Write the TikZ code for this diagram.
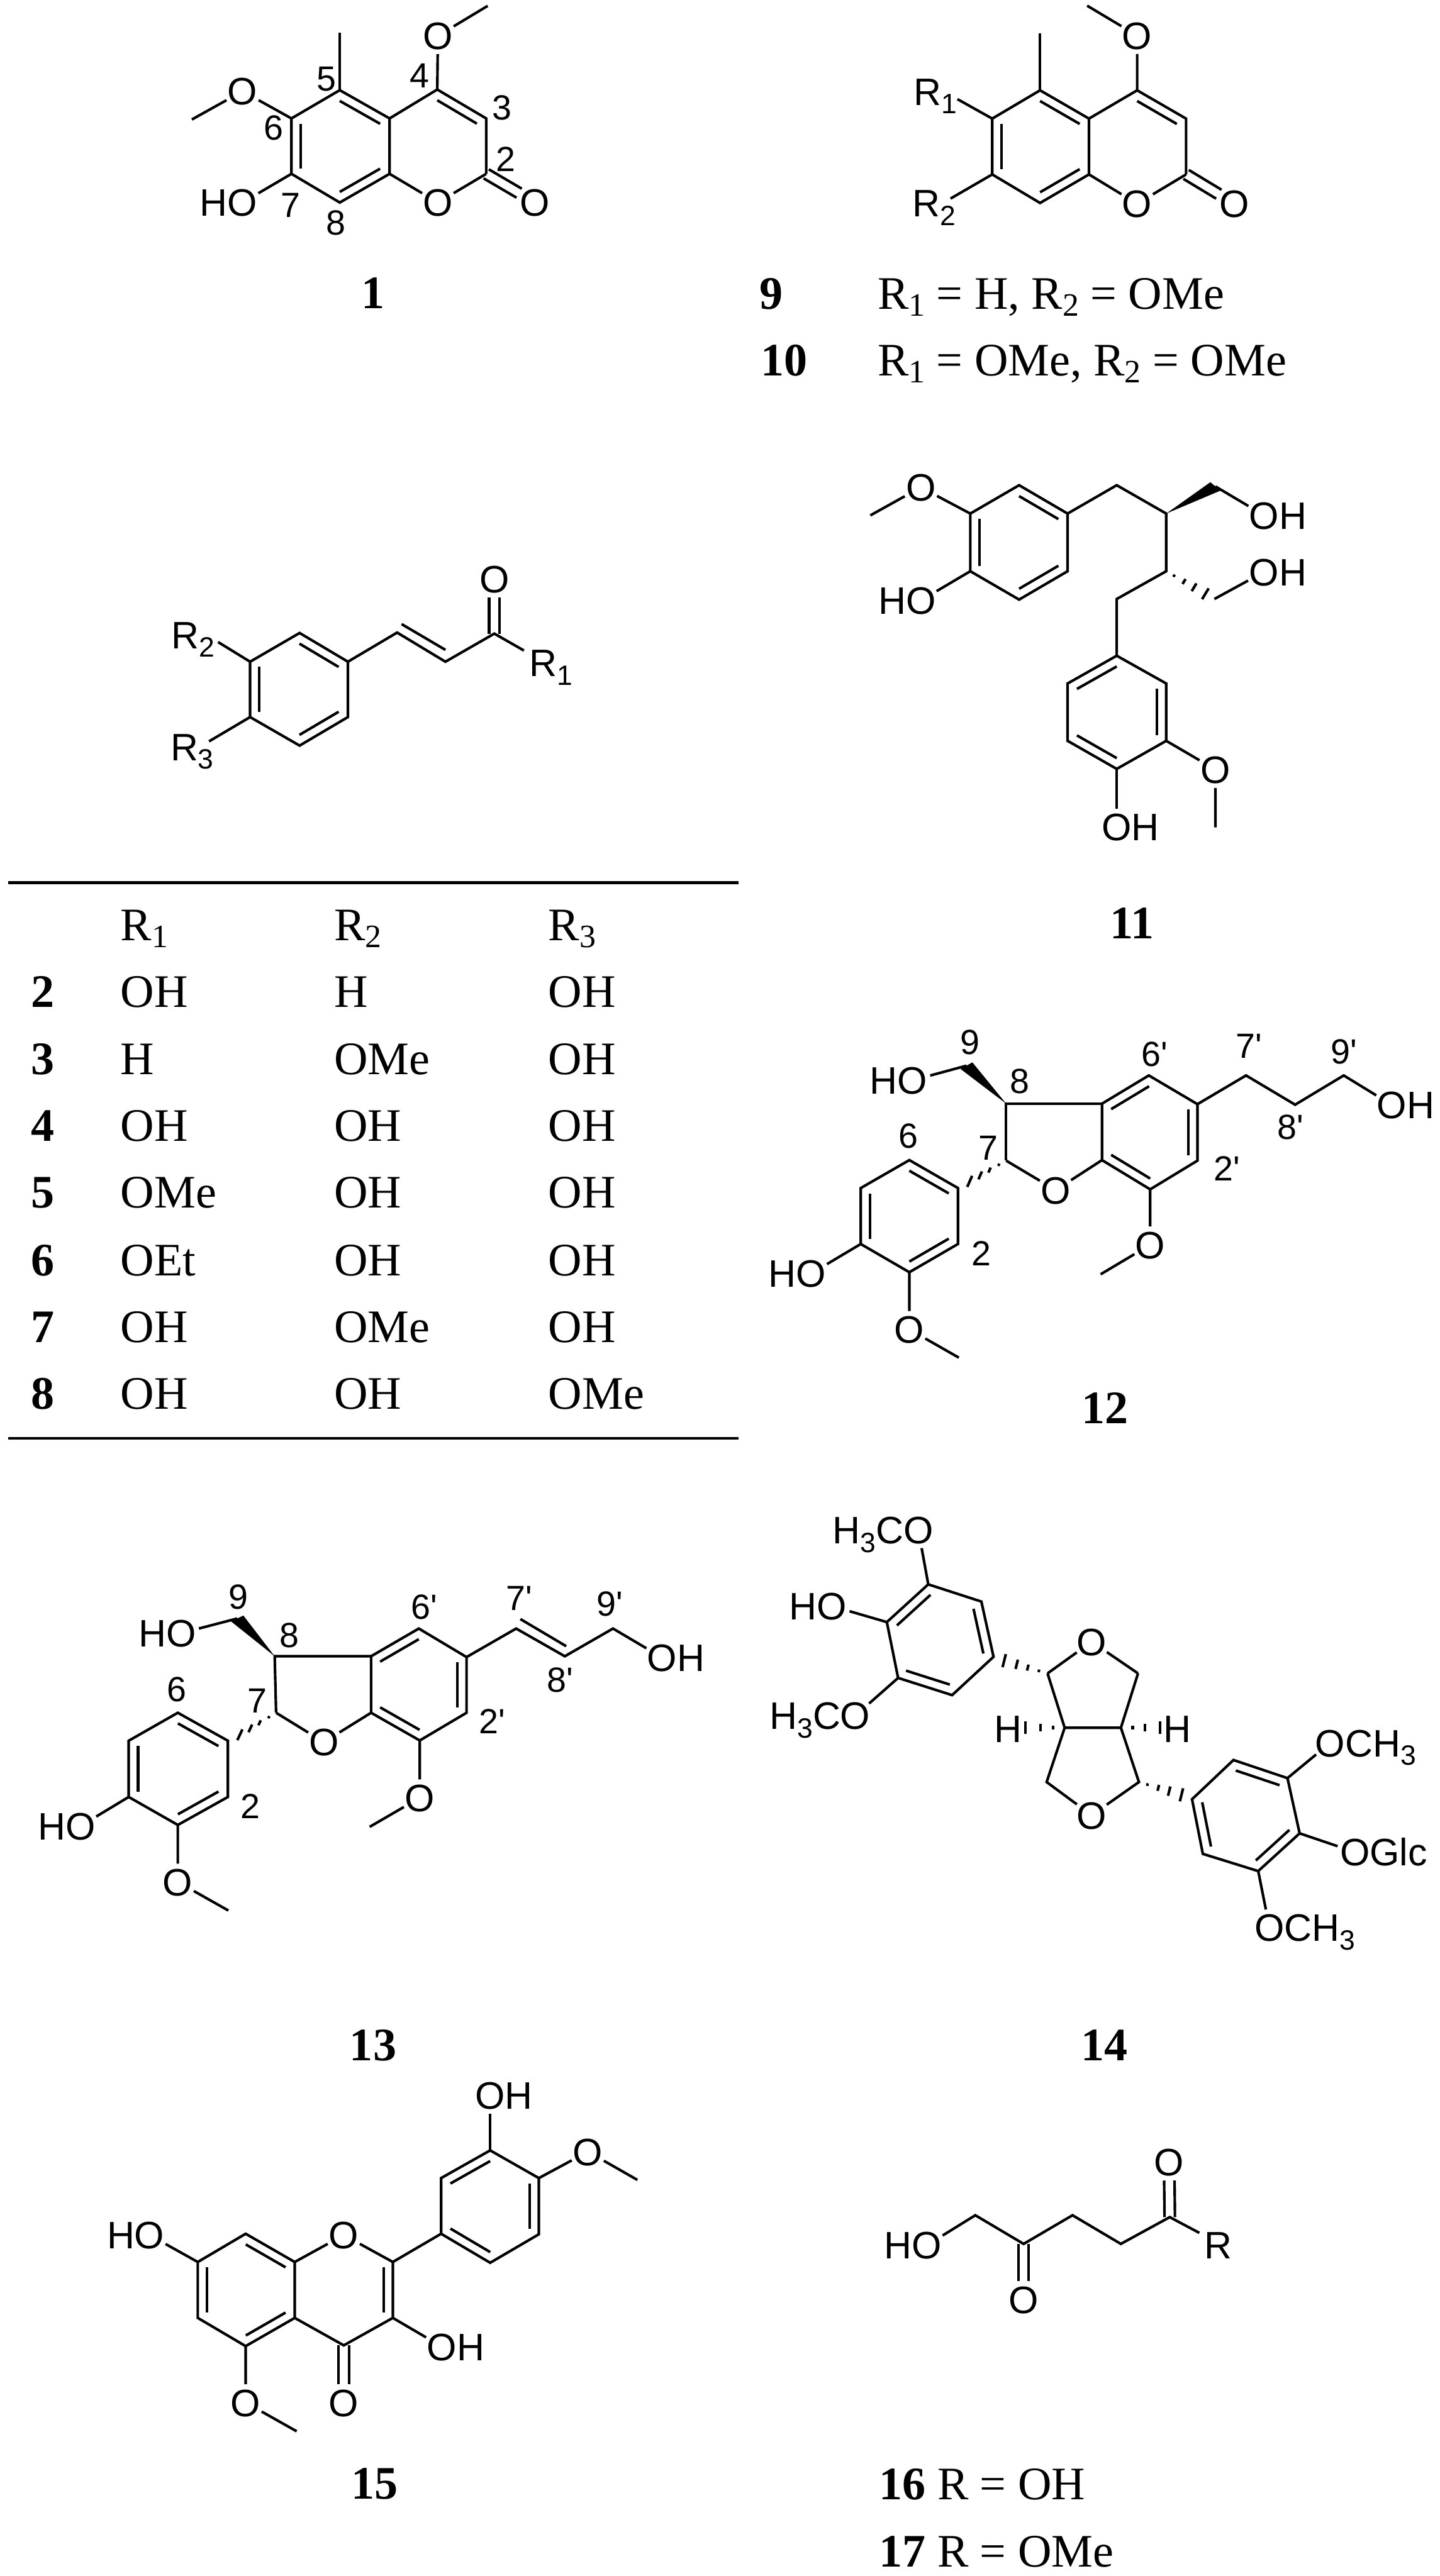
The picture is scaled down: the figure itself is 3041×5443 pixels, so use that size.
\documentclass[tikz,border=0pt]{standalone}
\usepackage{fontspec}
\usepackage{graphicx}
\usepackage{tikz}
\usetikzlibrary{calc}
\setmainfont{Liberation Serif}
\newfontfamily\chemfont{Liberation Sans}
\newcommand{\sbs}[1]{\raisebox{-.22em}{\scalebox{.73}{#1}}}
\newcommand{\tbs}[1]{\raisebox{-.15em}{\scalebox{.7}{#1}}}
\newcommand{\innerbond}[3]{\draw ($(#1)!.19!(#3)$) -- ($(#2)!.19!(#3)$);}
\newcommand{\carbonyl}[2]{
    \draw [shorten >=0.39cm] ($(#1)!0.11cm!90:(#2.center)$) -- ($(#2.center)!0.11cm!-90:(#1)$);
    \draw [shorten >=0.39cm] ($(#1)!0.11cm!-90:(#2.center)$) -- ($(#2.center)!0.11cm!90:(#1)$);
}
\newcommand{\hashbond}[5][.18,.41,.64,.9]{
    \foreach \hp in {#1} {
        \draw ($(#2)!\hp!(#3)+\hp*(#4,#5)$) -- ($(#2)!\hp!(#3)-\hp*(#4,#5)$);
    }
}
\newcommand{\wedgebond}[4]{\fill (#1) -- ($(#2)+(#3,#4)$) -- ($(#2)-(#3,#4)$) -- cycle;}
\tikzset{
    mol/.style n args={4}{shift={(#1,#2)},x={#3/1568*0.01cm},y={-#4/1568*0.01cm}},
    atom/.style={circle,inner sep=0pt,outer sep=-0.04cm,text height=16.5pt,text depth=0pt,
        font=\chemfont\fontsize{23}{23}\selectfont},
    rgroup/.style={inner sep=0pt,anchor=base west,font=\chemfont\fontsize{23}{23}\selectfont},
    locant/.style={inner sep=0pt,font=\chemfont\fontsize{21}{21}\selectfont},
    cmpd/.style={inner sep=0pt,anchor=base,font=\bfseries\fontsize{28}{28}\selectfont},
    entry/.style={inner sep=0pt,anchor=base west,font=\fontsize{28}{28}\selectfont}
}
\begin{document}
\begin{tikzpicture}[x=0.01cm,y=-0.01cm,line width=0.055cm]
    \useasboundingbox (0,0) rectangle (3041,5443);

    % compound 1
    \begin{scope}[mol={300}{0}{1000}{720}]
        \coordinate (A1) at (655,415);
        \coordinate (A2) at (820,545);
        \coordinate (A3) at (820,800);
        \coordinate (A4) at (655,932);
        \coordinate (A5) at (495,800);
        \coordinate (A6) at (495,545);
        \coordinate (A7) at (978,412);
        \coordinate (A8) at (1140,545);
        \coordinate (A9) at (1140,800);
        \coordinate (A10) at (655,150);
        \coordinate (A11) at (1145,27);
        \coordinate (A12) at (165,550);
        \coordinate (Ra) at (655,675);
        \coordinate (Rb) at (978,672);
        \node [atom] (O1) at (980,165) {O};
        \node [atom] (O2) at (333,420) {O};
        \node [atom] (O3) at (333,932) {\llap{H}O};
        \node [atom] (O4) at (980,932) {O};
        \node [atom] (O5) at (1302,932) {O};
        \draw (A1) -- (A2) -- (A3) -- (A4) -- (A5) -- (A6) -- cycle;
        \draw (A2) -- (A7) -- (A8) -- (A9);
        \draw (A3) -- (O4) -- (A9);
        \draw (A1) -- (A10);
        \draw (A7) -- (O1) -- (A11);
        \draw (A6) -- (O2) -- (A12);
        \draw (A5) -- (O3);
        \innerbond{A1}{A2}{Ra}
        \innerbond{A3}{A4}{Ra}
        \innerbond{A5}{A6}{Ra}
        \innerbond{A7}{A8}{Rb}
        \carbonyl{A9}{O5}
        \node [locant] (a2) at (1205,733) {2};
        \node [locant] (a3) at (1193,497) {3};
        \node [locant] (a4) at (920,348) {4};
        \node [locant] (a5) at (610,365) {5};
        \node [locant] (a6) at (435,590) {6};
        \node [locant] (a7) at (492,945) {7};
        \node [locant] (a8) at (642,1025) {8};
        \node [cmpd] (n1) at (765,1420) {1};
    \end{scope}

    % compounds 9 and 10
    \begin{scope}[mol={1600}{0}{1200}{860}]
        \coordinate (B1) at (780,348);
        \coordinate (B2) at (915,457);
        \coordinate (B3) at (915,672);
        \coordinate (B4) at (780,782);
        \coordinate (B5) at (648,672);
        \coordinate (B6) at (648,457);
        \coordinate (B7) at (1048,348);
        \coordinate (B8) at (1183,457);
        \coordinate (B9) at (1183,672);
        \coordinate (B10) at (780,128);
        \coordinate (B11) at (910,22);
        \coordinate (B12) at (552,382);
        \coordinate (B13) at (533,765);
        \coordinate (Rc) at (780,565);
        \coordinate (Rd) at (1048,565);
        \node [atom] (O6) at (1048,137) {O};
        \node [atom] (O7) at (1048,785) {O};
        \node [atom] (O8) at (1317,785) {O};
        \draw (B1) -- (B2) -- (B3) -- (B4) -- (B5) -- (B6) -- cycle;
        \draw (B2) -- (B7) -- (B8) -- (B9);
        \draw (B3) -- (O7) -- (B9);
        \draw (B1) -- (B10);
        \draw (B7) -- (O6) -- (B11);
        \draw (B6) -- (B12);
        \draw (B5) -- (B13);
        \innerbond{B1}{B2}{Rc}
        \innerbond{B3}{B4}{Rc}
        \innerbond{B5}{B6}{Rc}
        \innerbond{B7}{B8}{Rd}
        \carbonyl{B9}{O8}
        \node [rgroup] (r1) at (427,405) {R\sbs{1}};
        \node [rgroup] (r2) at (424,835) {R\sbs{2}};
        \node [cmpd] (n9) at (38,1190) {9};
        \node [cmpd] (n10) at (73,1447) {10};
        \node [entry] (t9) at (328,1190) {R\tbs{1} = H, R\tbs{2} = OMe};
        \node [entry] (t10) at (328,1447) {R\tbs{1} = OMe, R\tbs{2} = OMe};
    \end{scope}

    % enone of compounds 2-8
    \begin{scope}[mol={300}{1100}{1000}{700}]
        \coordinate (C1) at (522,532);
        \coordinate (C2) at (682,668);
        \coordinate (C3) at (682,930);
        \coordinate (C4) at (522,1065);
        \coordinate (C5) at (358,930);
        \coordinate (C6) at (358,668);
        \coordinate (C7) at (845,530);
        \coordinate (C8) at (1005,668);
        \coordinate (C9) at (1167,535);
        \coordinate (C10) at (860,490);
        \coordinate (C11) at (1005,612);
        \coordinate (C12) at (1265,615);
        \coordinate (C13) at (252,575);
        \coordinate (C14) at (222,1045);
        \coordinate (Re) at (520,798);
        \node [atom] (O9) at (1167,277) {O};
        \draw (C1) -- (C2) -- (C3) -- (C4) -- (C5) -- (C6) -- cycle;
        \draw (C2) -- (C7) -- (C8) -- (C9) -- (C12);
        \draw (C10) -- (C11);
        \draw (C6) -- (C13);
        \draw (C5) -- (C14);
        \innerbond{C1}{C2}{Re}
        \innerbond{C3}{C4}{Re}
        \innerbond{C5}{C6}{Re}
        \carbonyl{C9}{O9}
        \node [rgroup] (r3) at (1278,738) {R\sbs{1}};
        \node [rgroup] (r4) at (93,605) {R\sbs{2}};
        \node [rgroup] (r5) at (90,1135) {R\sbs{3}};
    \end{scope}

    % table
    \begin{scope}[mol={0}{1840}{1580}{1230}]
        \coordinate (T1) at (17,32);
        \coordinate (T2) at (1548,32);
        \coordinate (T3) at (17,1528);
        \coordinate (T4) at (1548,1528);
        \draw (T1) -- (T2);
        \draw (T3) -- (T4);
        \node [entry] (h1) at (250,187) {R\tbs{1}};
        \node [entry] (h2) at (698,187) {R\tbs{2}};
        \node [entry] (h3) at (1147,187) {R\tbs{3}};
        \foreach \cmp/\yy/\ra/\rb/\rc in {2/368/OH/H/OH,3/548/H/OMe/OH,4/728/OH/OH/OH,5/908/OMe/OH/OH,
                6/1090/OEt/OH/OH,7/1270/OH/OMe/OH,8/1450/OH/OH/OMe} {
            \node [cmpd,anchor=base west] (n\cmp) at (62,\yy) {\cmp};
            \node [entry] (ra\cmp) at (250,\yy) {\ra};
            \node [entry] (rb\cmp) at (698,\yy) {\rb};
            \node [entry] (rc\cmp) at (1147,\yy) {\rc};
        }
    \end{scope}

    % compound 11
    \begin{scope}[mol={1750}{950}{1100}{1000}]
        \coordinate (D1) at (574,118);
        \coordinate (D2) at (720,212);
        \coordinate (D3) at (720,403);
        \coordinate (D4) at (574,497);
        \coordinate (D5) at (427,403);
        \coordinate (D6) at (427,212);
        \coordinate (D7) at (868,118);
        \coordinate (D8) at (1017,212);
        \coordinate (D9) at (1017,403);
        \coordinate (D10) at (868,495);
        \coordinate (D11) at (1165,122);
        \coordinate (D12) at (1148,486);
        \coordinate (D13) at (1162,495);
        \coordinate (D14) at (868,683);
        \coordinate (D15) at (1017,775);
        \coordinate (D16) at (1017,965);
        \coordinate (D17) at (868,1058);
        \coordinate (D18) at (720,965);
        \coordinate (D19) at (720,775);
        \coordinate (D20) at (126,218);
        \coordinate (D21) at (1165,1252);
        \coordinate (Rf) at (574,308);
        \coordinate (Rg) at (868,870);
        \node [atom] (O10) at (278,125) {O};
        \node [atom] (O11) at (278,500) {\llap{H}O};
        \node [atom] (O12) at (1312,218) {O\rlap{H}};
        \node [atom] (O13) at (1312,405) {O\rlap{H}};
        \node [atom] (O14) at (1165,1060) {O};
        \node [atom] (O15) at (868,1250) {O\rlap{H}};
        \draw (D1) -- (D2) -- (D3) -- (D4) -- (D5) -- (D6) -- cycle;
        \draw (D14) -- (D15) -- (D16) -- (D17) -- (D18) -- (D19) -- cycle;
        \draw (D2) -- (D7) -- (D8) -- (D9) -- (D10) -- (D14);
        \draw (D6) -- (O10) -- (D20);
        \draw (D5) -- (O11);
        \draw (D11) -- (O12);
        \draw (D13) -- (O13);
        \draw (D16) -- (O14) -- (D21);
        \draw (D17) -- (O15);
        \innerbond{D1}{D2}{Rf}
        \innerbond{D3}{D4}{Rf}
        \innerbond{D5}{D6}{Rf}
        \innerbond{D14}{D19}{Rg}
        \innerbond{D15}{D16}{Rg}
        \innerbond{D17}{D18}{Rg}
        \wedgebond{D8}{D11}{-15}{-14}
        \hashbond{D9}{D12}{11}{-20}
        \node [cmpd] (n11) at (915,1620) {11};
    \end{scope}

    % compound 12
    \begin{scope}[mol={1550}{2100}{1491}{850}]
        \coordinate (E1) at (390,648);
        \coordinate (E2) at (498,757);
        \coordinate (E3) at (498,975);
        \coordinate (E4) at (390,1085);
        \coordinate (E5) at (282,975);
        \coordinate (E6) at (282,757);
        \coordinate (E7) at (605,650);
        \coordinate (E8) at (605,428);
        \coordinate (E9) at (818,428);
        \coordinate (E10) at (922,318);
        \coordinate (E11) at (1030,430);
        \coordinate (E12) at (1030,650);
        \coordinate (E13) at (925,762);
        \coordinate (E14) at (818,648);
        \coordinate (E15) at (1138,318);
        \coordinate (E16) at (1247,432);
        \coordinate (E17) at (1355,318);
        \coordinate (E18) at (517,280);
        \coordinate (E19) at (815,1093);
        \coordinate (E20) at (500,1418);
        \coordinate (E21) at (515,740);
        \coordinate (Rh) at (390,866);
        \coordinate (Ri) at (925,540);
        \node [atom] (O16) at (397,337) {\llap{H}O};
        \node [atom] (O17) at (715,765) {O};
        \node [atom] (O18) at (925,978) {O};
        \node [atom] (O19) at (1462,433) {O\rlap{H}};
        \node [atom] (O20) at (172,1090) {\llap{H}O};
        \node [atom] (O21) at (390,1308) {O};
        \draw (E1) -- (E2) -- (E3) -- (E4) -- (E5) -- (E6) -- cycle;
        \draw (E9) -- (E10) -- (E11) -- (E12) -- (E13) -- (E14) -- cycle;
        \draw (E7) -- (E8) -- (E9);
        \draw (E7) -- (O17) -- (E14);
        \draw (E18) -- (O16);
        \draw (E13) -- (O18) -- (E19);
        \draw (E11) -- (E15) -- (E16) -- (E17) -- (O19);
        \draw (E5) -- (O20);
        \draw (E4) -- (O21) -- (E20);
        \innerbond{E1}{E2}{Rh}
        \innerbond{E3}{E4}{Rh}
        \innerbond{E5}{E6}{Rh}
        \innerbond{E9}{E10}{Ri}
        \innerbond{E11}{E12}{Ri}
        \innerbond{E13}{E14}{Ri}
        \wedgebond{E8}{E18}{13}{-13}
        \hashbond{E7}{E21}{6}{-24}
        \node [locant] (e9) at (525,190) {9};
        \node [locant] (e8) at (635,340) {8};
        \node [locant] (e6) at (388,553) {6};
        \node [locant] (e7) at (565,600) {7};
        \node [locant] (e2) at (550,1012) {2};
        \node [locant] (e6p) at (935,235) {6'};
        \node [locant] (e7p) at (1145,203) {7'};
        \node [locant] (e8p) at (1237,520) {8'};
        \node [locant] (e9p) at (1355,225) {9'};
        \node [locant] (e2p) at (1095,680) {2'};
        \node [cmpd] (n12) at (825,1675) {12};
    \end{scope}

    % compound 13
    \begin{scope}[mol={0}{3200}{1550}{900}]
        \coordinate (F1) at (380,730);
        \coordinate (F2) at (487,833);
        \coordinate (F3) at (487,1040);
        \coordinate (F4) at (380,1143);
        \coordinate (F5) at (275,1040);
        \coordinate (F6) at (275,833);
        \coordinate (F7) at (590,730);
        \coordinate (F8) at (587,522);
        \coordinate (F9) at (793,522);
        \coordinate (F10) at (895,420);
        \coordinate (F11) at (997,525);
        \coordinate (F12) at (997,730);
        \coordinate (F13) at (897,832);
        \coordinate (F14) at (793,730);
        \coordinate (F15) at (1103,420);
        \coordinate (F16) at (1207,522);
        \coordinate (F17) at (1310,420);
        \coordinate (F18) at (507,383);
        \coordinate (F19) at (790,1150);
        \coordinate (F20) at (488,1458);
        \coordinate (F21) at (504,820);
        \coordinate (F22) at (1112,385);
        \coordinate (F23) at (1210,485);
        \coordinate (Rj) at (381,936);
        \coordinate (Rk) at (895,626);
        \node [atom] (O22) at (387,437) {\llap{H}O};
        \node [atom] (O23) at (692,838) {O};
        \node [atom] (O24) at (897,1043) {O};
        \node [atom] (O25) at (1415,527) {O\rlap{H}};
        \node [atom] (O26) at (172,1147) {\llap{H}O};
        \node [atom] (O27) at (380,1353) {O};
        \draw (F1) -- (F2) -- (F3) -- (F4) -- (F5) -- (F6) -- cycle;
        \draw (F9) -- (F10) -- (F11) -- (F12) -- (F13) -- (F14) -- cycle;
        \draw (F7) -- (F8) -- (F9);
        \draw (F7) -- (O23) -- (F14);
        \draw (F18) -- (O22);
        \draw (F13) -- (O24) -- (F19);
        \draw (F11) -- (F15) -- (F16) -- (F17) -- (O25);
        \draw (F22) -- (F23);
        \draw (F5) -- (O26);
        \draw (F4) -- (O27) -- (F20);
        \innerbond{F1}{F2}{Rj}
        \innerbond{F3}{F4}{Rj}
        \innerbond{F5}{F6}{Rj}
        \innerbond{F9}{F10}{Rk}
        \innerbond{F11}{F12}{Rk}
        \innerbond{F13}{F14}{Rk}
        \wedgebond{F8}{F18}{13}{-11}
        \hashbond{F7}{F21}{6}{-22}
        \node [locant] (f9) at (510,305) {9};
        \node [locant] (f8) at (618,445) {8};
        \node [locant] (f6) at (378,645) {6};
        \node [locant] (f7) at (550,685) {7};
        \node [locant] (f2) at (535,1075) {2};
        \node [locant] (f6p) at (907,340) {6'};
        \node [locant] (f7p) at (1110,308) {7'};
        \node [locant] (f8p) at (1197,610) {8'};
        \node [locant] (f9p) at (1303,330) {9'};
        \node [locant] (f2p) at (1052,762) {2'};
    \end{scope}
    \node [cmpd] (n13) at (788,4354) {13};

    % compound 14
    \begin{scope}[mol={1550}{3150}{1491}{1000}]
        \coordinate (G1) at (432,310);
        \coordinate (G2) at (550,367);
        \coordinate (G3) at (577,550);
        \coordinate (G4) at (485,677);
        \coordinate (G5) at (365,620);
        \coordinate (G6) at (340,435);
        \coordinate (G7) at (697,605);
        \coordinate (G8) at (735,785);
        \coordinate (G9) at (860,785);
        \coordinate (G10) at (898,605);
        \coordinate (G11) at (695,965);
        \coordinate (G12) at (900,965);
        \coordinate (G13) at (1018,1022);
        \coordinate (G14) at (1110,892);
        \coordinate (G15) at (1230,952);
        \coordinate (G16) at (1257,1135);
        \coordinate (G17) at (1165,1260);
        \coordinate (G18) at (1042,1203);
        \coordinate (G19) at (590,558);
        \coordinate (G20) at (1005,1012);
        \coordinate (G21) at (648,785);
        \coordinate (G22) at (947,785);
        \coordinate (Rl) at (458,493);
        \coordinate (Rm) at (1137,1075);
        \node [atom] (O28) at (410,130) {\llap{H\sbs{3}C}O};
        \node [atom] (O29) at (218,382) {\llap{H}O};
        \node [atom] (O30) at (270,745) {\llap{H\sbs{3}C}O};
        \node [atom] (O31) at (795,500) {O};
        \node [atom] (O32) at (795,1075) {O};
        \node [atom] (O33) at (1325,835) {O\rlap{CH\sbs{3}}};
        \node [atom] (O34) at (1380,1197) {O\rlap{Glc}};
        \node [atom] (O35) at (1190,1447) {O\rlap{CH\sbs{3}}};
        \node [atom] (H1) at (610,788) {H};
        \node [atom] (H2) at (985,788) {H};
        \draw (G1) -- (G2) -- (G3) -- (G4) -- (G5) -- (G6) -- cycle;
        \draw (G13) -- (G14) -- (G15) -- (G16) -- (G17) -- (G18) -- cycle;
        \draw (G10) -- (G9) -- (G8) -- (G7);
        \draw (G7) -- (O31) -- (G10);
        \draw (G8) -- (G11) -- (O32) -- (G12) -- (G9);
        \draw (G1) -- (O28);
        \draw (G6) -- (O29);
        \draw (G5) -- (O30);
        \draw (G15) -- (O33);
        \draw (G16) -- (O34);
        \draw (G17) -- (O35);
        \innerbond{G1}{G6}{Rl}
        \innerbond{G2}{G3}{Rl}
        \innerbond{G4}{G5}{Rl}
        \innerbond{G14}{G15}{Rm}
        \innerbond{G16}{G17}{Rm}
        \innerbond{G13}{G18}{Rm}
        \hashbond{G7}{G19}{4}{-24}
        \hashbond{G12}{G20}{4}{-24}
        \hashbond[.3,.62,1]{G8}{G21}{0}{-21}
        \hashbond[.3,.62,1]{G9}{G22}{0}{-21}
    \end{scope}
    \node [cmpd] (n14) at (2333,4354) {14};

    % compound 15
    \begin{scope}[mol={150}{4400}{1300}{850}]
        \coordinate (J1) at (445,590);
        \coordinate (J2) at (570,700);
        \coordinate (J3) at (570,918);
        \coordinate (J4) at (445,1028);
        \coordinate (J5) at (323,918);
        \coordinate (J6) at (323,700);
        \coordinate (J7) at (820,700);
        \coordinate (J8) at (820,918);
        \coordinate (J9) at (695,1025);
        \coordinate (J10) at (943,590);
        \coordinate (J11) at (943,373);
        \coordinate (J12) at (1068,265);
        \coordinate (J13) at (1192,373);
        \coordinate (J14) at (1192,592);
        \coordinate (J15) at (1068,703);
        \coordinate (J16) at (1443,380);
        \coordinate (J17) at (575,1360);
        \coordinate (Rn) at (447,809);
        \coordinate (Ro) at (695,809);
        \coordinate (Rp) at (1068,484);
        \node [atom] (O36) at (695,595) {O};
        \node [atom] (O37) at (200,595) {\llap{H}O};
        \node [atom] (O38) at (1068,50) {O\rlap{H}};
        \node [atom] (O39) at (1317,270) {O};
        \node [atom] (O40) at (945,1030) {O\rlap{H}};
        \node [atom] (O41) at (445,1248) {O};
        \node [atom] (O42) at (695,1248) {O};
        \draw (J1) -- (J2) -- (J3) -- (J4) -- (J5) -- (J6) -- cycle;
        \draw (J10) -- (J11) -- (J12) -- (J13) -- (J14) -- (J15) -- cycle;
        \draw (J2) -- (O36) -- (J7) -- (J8) -- (J9) -- (J3);
        \draw (J7) -- (J10);
        \draw (J6) -- (O37);
        \draw (J12) -- (O38);
        \draw (J13) -- (O39) -- (J16);
        \draw (J8) -- (O40);
        \draw (J4) -- (O41) -- (J17);
        \innerbond{J1}{J2}{Rn}
        \innerbond{J3}{J4}{Rn}
        \innerbond{J5}{J6}{Rn}
        \innerbond{J7}{J8}{Ro}
        \innerbond{J11}{J12}{Rp}
        \innerbond{J13}{J14}{Rp}
        \innerbond{J10}{J15}{Rp}
        \carbonyl{J9}{O42}
    \end{scope}
    \node [cmpd] (n15) at (791,5280) {15};

    % compounds 16 and 17
    \begin{scope}[mol={1800}{4400}{1000}{1043}]
        \coordinate (K1) at (408,422);
        \coordinate (K2) at (568,513);
        \coordinate (K3) at (730,422);
        \coordinate (K4) at (890,513);
        \coordinate (K5) at (1052,428);
        \coordinate (K6) at (1150,478);
        \node [atom] (O43) at (248,517) {\llap{H}O};
        \node [atom] (O44) at (568,690) {O};
        \node [atom] (O45) at (1050,253) {O};
        \draw (O43) -- (K1) -- (K2) -- (K3) -- (K4) -- (K5) -- (K6);
        \carbonyl{K2}{O44}
        \carbonyl{K5}{O45}
        \node [rgroup] (r6) at (1162,560) {R};
        \node [entry] (t16) at (85,1325) {\textbf{16} R = OH};
        \node [entry] (t17) at (85,1538) {\textbf{17} R = OMe};
    \end{scope}
\end{tikzpicture}
\end{document}
